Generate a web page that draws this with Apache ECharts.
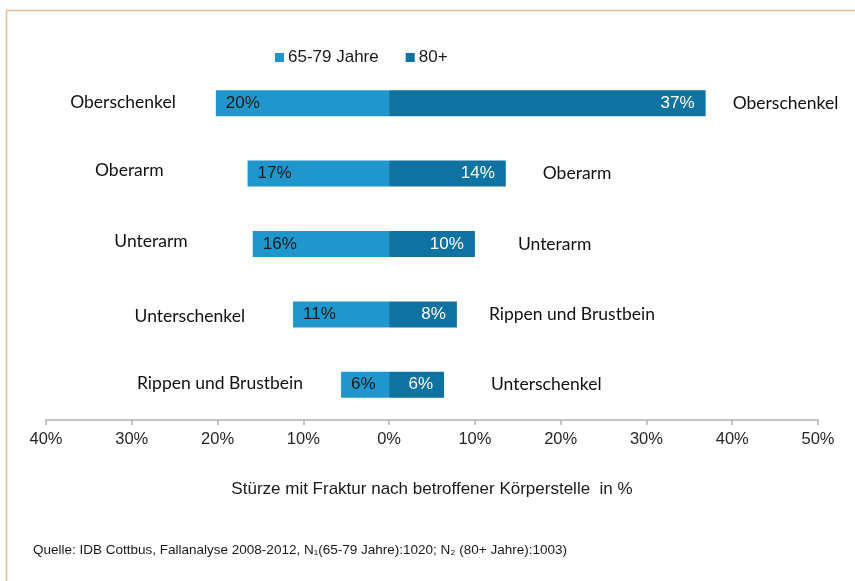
<!DOCTYPE html>
<html>
<head>
<meta charset="utf-8">
<script src="https://cdn.jsdelivr.net/npm/echarts@6/dist/echarts.min.js"></script>
<style>
  html, body { margin: 0; padding: 0; background: #fff; }
  #chart { width: 855px; height: 581px; }
</style>
</head>
<body>
<div id="chart"></div>
<script>
// Werte in Prozent, Reihenfolge von oben nach unten
const rows = ["r1", "r2", "r3", "r4", "r5"];
const labelsLeft = ["Oberschenkel", "Oberarm", "Unterarm", "Unterschenkel", "Rippen und Brustbein"];
const labelsRight = ["Oberschenkel", "Oberarm", "Unterarm", "Rippen und Brustbein", "Unterschenkel"];
const young = [20.2, 16.5, 15.9, 11.2, 5.6];   // 65-79 Jahre
const old = [36.9, 13.6, 10.0, 7.9, 6.4];      // 80+
const shownYoung = [20, 17, 16, 11, 6];
const shownOld = [37, 14, 10, 8, 6];

// Abstand der Kategorie-Texte zum Balkenende (px) und senkrechter Versatz
const gapLeft = [40, 84, 65, 48, 38];
const shiftLeft = [-1, -3, -3, 2, -1];
const gapRight = [27, 37, 43, 32, 47];

const sans = "Liberation Sans, Arial, sans-serif";
const catFont = "Lato, sans-serif";

let myChart = echarts.init(document.getElementById("chart"));
let option = {
  animation: false,
  legend: {
    data: ["65-79 Jahre", "80+"],
    left: 270,
    top: 44,
    itemWidth: 9,
    itemHeight: 9,
    itemGap: 27,
    icon: "rect",
    textStyle: { fontFamily: sans, fontSize: 17, color: "#1a1a1a", padding: [0, 0, 0, -1] },
  },
  grid: { left: 46, right: 37, top: 68, bottom: 161 },
  xAxis: {
    type: "value",
    min: -40,
    max: 50,
    interval: 10,
    splitLine: { show: false },
    axisLine: { show: true, lineStyle: { color: "#b3b3b3", width: 1.5 } },
    axisTick: { show: true, length: 5, lineStyle: { color: "#b3b3b3", width: 1.5 } },
    axisLabel: {
      fontFamily: sans,
      fontSize: 16.5,
      color: "#262626",
      margin: 11,
      formatter: (v) => Math.abs(v) + "%",
    },
    name: "Stürze mit Fraktur nach betroffener Körperstelle  in %",
    nameLocation: "middle",
    nameGap: 61,
    nameTextStyle: { fontFamily: sans, fontSize: 17, color: "#1a1a1a" },
  },
  yAxis: {
    type: "category",
    data: rows,
    inverse: true,
    show: false,
  },
  series: [
    {
      name: "65-79 Jahre",
      type: "bar",
      stack: "main",
      barWidth: 26,
      barGap: "-100%",
      itemStyle: { color: "#2196cc" },
      label: {
        show: true,
        position: "insideLeft",
        distance: 10,
        fontFamily: sans,
        fontSize: 17,
        color: "#1a1a1a",
        formatter: (p) => shownYoung[p.dataIndex] + "%",
      },
      data: young.map((v) => -v),
    },
    {
      name: "80+",
      type: "bar",
      stack: "main",
      barWidth: 26,
      barGap: "-100%",
      itemStyle: { color: "#0e73a0" },
      label: {
        show: true,
        position: "insideRight",
        distance: 11,
        fontFamily: sans,
        fontSize: 17,
        color: "#ffffff",
        formatter: (p) => shownOld[p.dataIndex] + "%",
      },
      data: old,
    },
    {
      name: "labelsLeft",
      type: "bar",
      stack: "labels",
      barWidth: 26,
      barGap: "-100%",
      silent: true,
      itemStyle: { color: "rgba(0,0,0,0)" },
      label: {
        show: true,
        position: "left",
        fontFamily: catFont,
        fontSize: 17.5,
        color: "#111",
        formatter: (p) => labelsLeft[p.dataIndex],
      },
      data: young.map((v, i) => ({ value: -v, label: { distance: gapLeft[i], offset: [0, shiftLeft[i]] } })),
    },
    {
      name: "labelsRight",
      type: "bar",
      stack: "labels",
      barWidth: 26,
      barGap: "-100%",
      silent: true,
      itemStyle: { color: "rgba(0,0,0,0)" },
      label: {
        show: true,
        position: "right",
        fontFamily: catFont,
        fontSize: 17.5,
        color: "#111",
        formatter: (p) => labelsRight[p.dataIndex],
      },
      data: old.map((v, i) => ({ value: v, label: { distance: gapRight[i] } })),
    },
  ],
  graphic: [
    {
      type: "rect",
      shape: { x: 6.5, y: 10.5, width: 900, height: 700 },
      style: { fill: "none", stroke: "#e8c190", lineWidth: 1.5 },
      silent: true,
    },
    {
      type: "text",
      left: 33,
      top: 543,
      style: {
        text: "Quelle: IDB Cottbus, Fallanalyse 2008-2012, N₁(65-79 Jahre):1020; N₂ (80+ Jahre):1003)",
        font: "13.5px Liberation Sans, Arial, sans-serif",
        fill: "#1a1a1a",
      },
    },
  ],
};
myChart.setOption(option);
</script>
</body>
</html>
